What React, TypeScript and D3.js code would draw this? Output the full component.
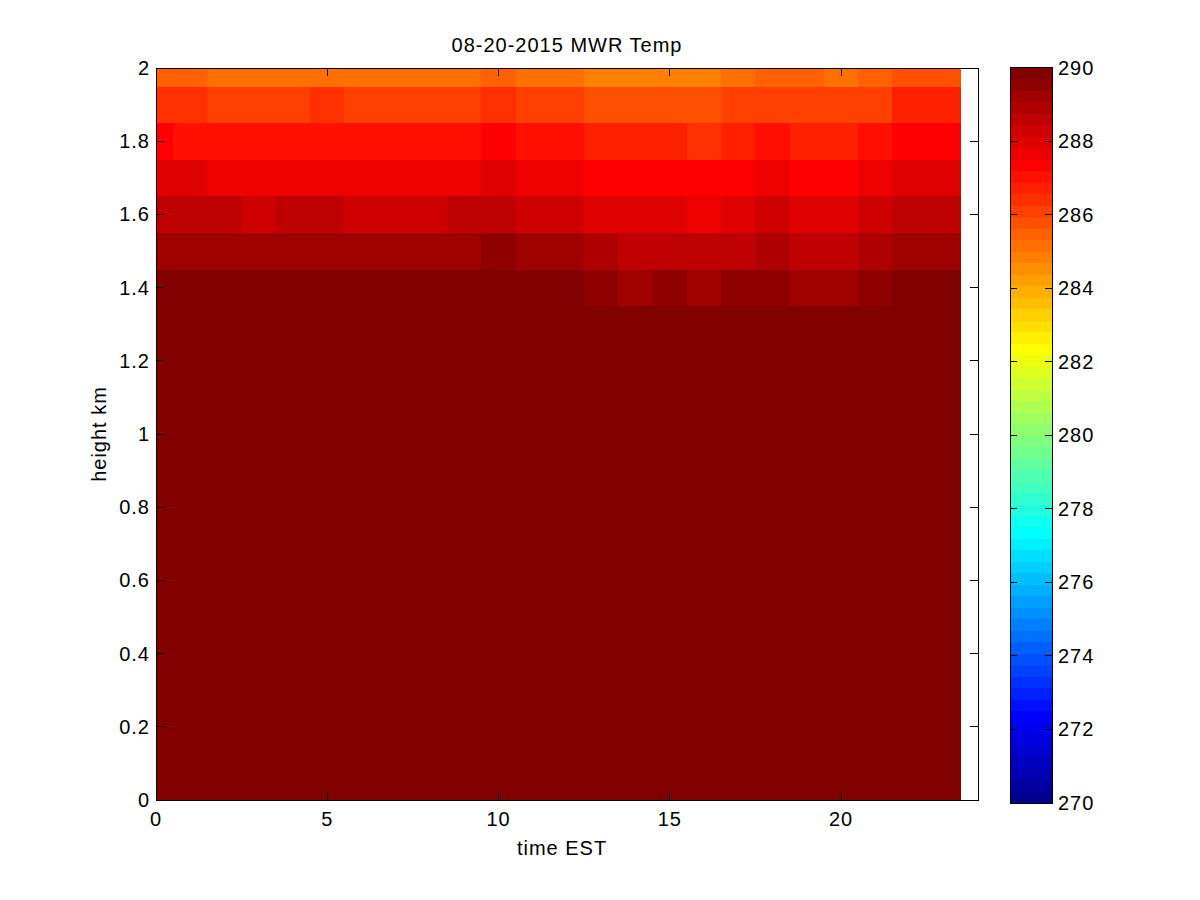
import React from 'react';
import * as d3 from 'd3';

// ---------- data ----------
const chartTitle = '08-20-2015 MWR Temp';
const xAxisLabel = 'time EST';
const yAxisLabel = 'height km';

// column centres (hours EST)
const timeHours = [0, 1, 2, 3, 4, 5, 6, 7, 8, 9, 10, 11, 12, 13, 14, 15, 16, 17, 18, 19, 20, 21, 22, 23];
// row centres (km)
const heightKm = [1.4, 1.5, 1.6, 1.7, 1.8, 1.9, 2.0];

const temp14 = [290.2, 290.2, 290.2, 290.2, 290.2, 290.2, 290.2, 290.2, 290.2, 290.2, 290.2, 290.2, 290.2, 289.5, 289.2, 289.5, 289.2, 289.5, 289.5, 289.2, 289.2, 289.5, 290.2, 290.2];
const temp15 = [289.2, 289.2, 289.2, 289.2, 289.2, 289.2, 289.2, 289.2, 289.2, 289.2, 289.5, 289.2, 289.2, 288.9, 288.6, 288.6, 288.6, 288.6, 288.9, 288.6, 288.6, 288.9, 289.2, 289.2];
const temp16 = [288.6, 288.6, 288.6, 288.3, 288.6, 288.6, 288.3, 288.3, 288.3, 288.6, 288.6, 288.3, 288.3, 288.0, 288.0, 288.0, 287.7, 288.0, 288.3, 288.0, 288.0, 288.3, 288.6, 288.6];
const temp17 = [288.0, 288.0, 287.7, 287.7, 287.7, 287.7, 287.7, 287.7, 287.7, 287.7, 288.0, 287.7, 287.7, 287.3, 287.3, 287.3, 287.3, 287.3, 287.7, 287.3, 287.3, 287.7, 288.0, 288.0];
const temp18 = [287.3, 287.0, 287.0, 287.0, 287.0, 287.0, 287.0, 287.0, 287.0, 287.0, 287.3, 287.0, 287.0, 286.7, 286.7, 286.7, 286.4, 286.7, 287.0, 286.7, 286.7, 287.0, 287.3, 287.3];
const temp19 = [286.4, 286.4, 286.1, 286.1, 286.1, 286.4, 286.1, 286.1, 286.1, 286.1, 286.4, 286.1, 286.1, 285.8, 285.8, 285.8, 285.8, 286.1, 286.1, 286.1, 286.1, 286.1, 286.7, 286.7];
const temp20 = [285.5, 285.5, 285.2, 285.2, 285.2, 285.2, 285.2, 285.2, 285.2, 285.2, 285.5, 285.2, 285.2, 284.8, 284.8, 284.8, 284.8, 285.2, 285.5, 285.5, 285.2, 285.5, 285.8, 285.8];
const tempRows = [temp14, temp15, temp16, temp17, temp18, temp19, temp20];

// everything below the lowest row is warmer than the colour scale top
const lowerLayerTemp = 290.2;

const xTicks = [0, 5, 10, 15, 20];
const yTicks = [0, 0.2, 0.4, 0.6, 0.8, 1, 1.2, 1.4, 1.6, 1.8, 2];
const cbarTicks = [270, 272, 274, 276, 278, 280, 282, 284, 286, 288, 290];
const colorLimits = [270, 290];

// ---------- jet colormap (MATLAB, 64 levels) ----------
function jet(m: number): string[] {
  const n = Math.ceil(m / 4);
  const u: number[] = [];
  for (let i = 1; i <= n; i++) u.push(i / n);
  for (let i = 0; i < n - 1; i++) u.push(1);
  for (let i = n; i >= 1; i--) u.push(i / n);
  const off = Math.ceil(n / 2) - (m % 4 === 1 ? 1 : 0);
  const R = new Array(m).fill(0), G = new Array(m).fill(0), B = new Array(m).fill(0);
  for (let j = 1; j <= u.length; j++) {
    const gi = off + j;
    if (gi >= 1 && gi <= m) G[gi - 1] = u[j - 1];
    const ri = gi + n;
    if (ri >= 1 && ri <= m) R[ri - 1] = u[j - 1];
    const bi = gi - n;
    if (bi >= 1 && bi <= m) B[bi - 1] = u[j - 1];
  }
  return R.map((r, i) => d3.rgb(Math.round(r * 255), Math.round(G[i] * 255), Math.round(B[i] * 255)).formatHex());
}
const NC = 64;
const cmap = jet(NC);
const colorOf = (t: number) => {
  const k = Math.floor((t - colorLimits[0]) / (colorLimits[1] - colorLimits[0]) * NC);
  return cmap[Math.max(0, Math.min(NC - 1, k))];
};

// ---------- layout ----------
const W = 1200, H = 900;
const L = 156, Rt = 978, T = 68, Bt = 800;
const cbL = 1010, cbR = 1052, cbT = 67.5, cbB = 803;
const FONT = 'Liberation Sans, Arial, Helvetica, sans-serif';
const FS = 20;
const LS = 1;
const TICK = 8;

export default function App() {
  const x = d3.scaleLinear().domain([0, 24]).range([L, Rt]);
  const y = d3.scaleLinear().domain([0, 2]).range([Bt, T]);
  const cy = d3.scaleLinear().domain(colorLimits).range([cbB, cbT]);

  const nx = timeHours.length;
  const xEdges: number[] = [];
  for (let j = 0; j <= nx; j++) {
    if (j === 0) xEdges.push(Math.max(0, timeHours[0] - (timeHours[1] - timeHours[0]) / 2));
    else if (j === nx) xEdges.push(timeHours[nx - 1] + (timeHours[nx - 1] - timeHours[nx - 2]) / 2);
    else xEdges.push((timeHours[j - 1] + timeHours[j]) / 2);
  }
  const ny = heightKm.length;
  const yEdges: number[] = [];
  for (let i = 0; i <= ny; i++) {
    if (i === 0) yEdges.push(heightKm[0] - (heightKm[1] - heightKm[0]) / 2);
    else if (i === ny) yEdges.push(Math.min(2, heightKm[ny - 1] + (heightKm[ny - 1] - heightKm[ny - 2]) / 2));
    else yEdges.push((heightKm[i - 1] + heightKm[i]) / 2);
  }

  const cells: React.ReactNode[] = [];
  // lower saturated layer
  cells.push(
    <rect key="low" x={x(xEdges[0])} y={y(yEdges[0])} width={x(xEdges[nx]) - x(xEdges[0])}
      height={y(0) - y(yEdges[0])} fill={colorOf(lowerLayerTemp)} shapeRendering="crispEdges" />
  );
  tempRows.forEach((row, i) => {
    row.forEach((t, j) => {
      const x0 = x(xEdges[j]), x1 = x(xEdges[j + 1]);
      const y0 = y(yEdges[i + 1]), y1 = y(yEdges[i]);
      cells.push(
        <rect key={`c${i}-${j}`} x={x0} y={y0} width={x1 - x0 + 0.3} height={y1 - y0 + 0.3}
          fill={colorOf(t)} shapeRendering="crispEdges" />
      );
    });
  });

  const cbStep = (colorLimits[1] - colorLimits[0]) / NC;
  const cbBands = cmap.map((c, k) => {
    const v0 = colorLimits[0] + k * cbStep, v1 = v0 + cbStep;
    return <rect key={`cb${k}`} x={cbL} y={cy(v1)} width={cbR - cbL} height={cy(v0) - cy(v1) + 0.3}
      fill={c} shapeRendering="crispEdges" />;
  });

  const txt = { fontFamily: FONT, fontSize: FS, letterSpacing: LS, fill: '#000' } as const;

  return (
    <svg width={W} height={H} viewBox={`0 0 ${W} ${H}`} style={{ position: 'absolute', left: 0, top: 0, background: '#fff' }}>
      <rect x={0} y={0} width={W} height={H} fill="#fff" />
      {cells}
      {/* ticks */}
      <g stroke="#000" strokeWidth={1} shapeRendering="crispEdges">
        {xTicks.map(t => (
          <g key={`xt${t}`}>
            <line x1={x(t)} x2={x(t)} y1={Bt} y2={Bt - TICK} />
            <line x1={x(t)} x2={x(t)} y1={T} y2={T + TICK} />
          </g>
        ))}
        {yTicks.map(t => (
          <g key={`yt${t}`}>
            <line x1={L} x2={L + TICK} y1={y(t)} y2={y(t)} />
            <line x1={Rt} x2={Rt - TICK} y1={y(t)} y2={y(t)} />
          </g>
        ))}
      </g>
      <rect x={L} y={T} width={Rt - L} height={Bt - T} fill="none" stroke="#000" strokeWidth={1} shapeRendering="crispEdges" />
      {/* tick labels */}
      {xTicks.map(t => (
        <text key={`xl${t}`} x={x(t)} y={826} textAnchor="middle" {...txt}>{d3.format('~g')(t)}</text>
      ))}
      {yTicks.map(t => (
        <text key={`yl${t}`} x={L - 6} y={y(t) + 7} textAnchor="end" {...txt}>{d3.format('~g')(t)}</text>
      ))}
      <text x={(L + Rt) / 2 - 5} y={855} textAnchor="middle" {...txt}>{xAxisLabel}</text>
      <text transform={`translate(106, ${(T + Bt) / 2}) rotate(-90)`} textAnchor="middle" {...txt}>{yAxisLabel}</text>
      <text x={(L + Rt) / 2} y={52} textAnchor="middle" {...txt}>{chartTitle}</text>

      {/* colorbar */}
      {cbBands}
      <g stroke="#000" strokeWidth={1} shapeRendering="crispEdges">
        {cbarTicks.map(t => (
          <g key={`ct${t}`}>
            <line x1={cbL} x2={cbL + 7} y1={cy(t)} y2={cy(t)} />
            <line x1={cbR} x2={cbR - 7} y1={cy(t)} y2={cy(t)} />
          </g>
        ))}
      </g>
      <rect x={cbL} y={cbT} width={cbR - cbL} height={cbB - cbT} fill="none" stroke="#000" strokeWidth={1} shapeRendering="crispEdges" />
      {cbarTicks.map(t => (
        <text key={`cl${t}`} x={cbR + 6} y={cy(t) + 7} textAnchor="start" {...txt}>{t}</text>
      ))}
    </svg>
  );
}
